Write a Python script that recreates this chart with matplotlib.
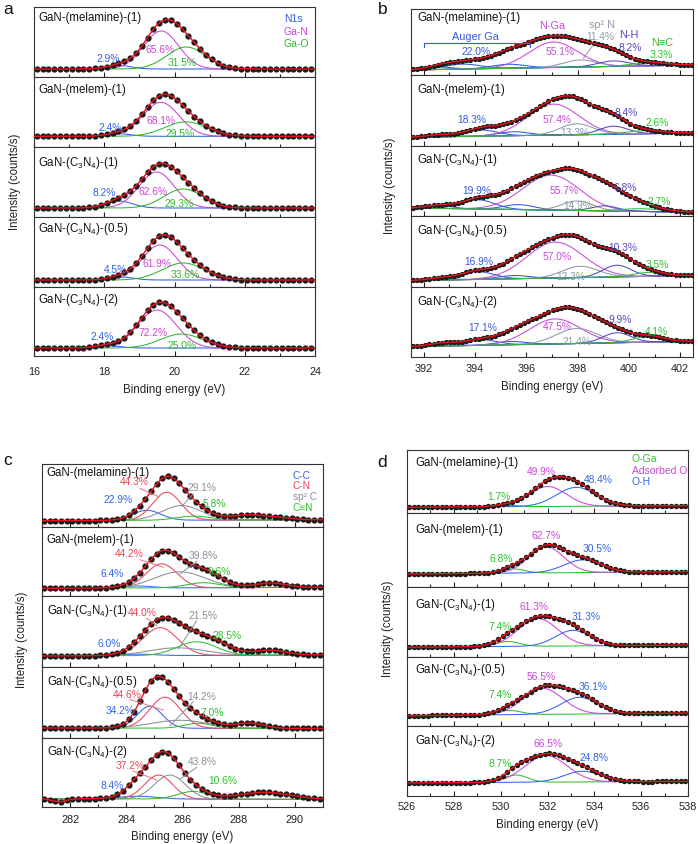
import numpy as np
import matplotlib
matplotlib.use('Agg')
import matplotlib.pyplot as plt
from matplotlib.lines import Line2D
from matplotlib.ticker import MultipleLocator

plt.rcParams['font.family'] = ['Liberation Sans', 'DejaVu Sans']
plt.rcParams['mathtext.fontset'] = 'custom'
plt.rcParams['mathtext.rm'] = 'Liberation Sans'
plt.rcParams['mathtext.it'] = 'Liberation Sans:italic'
plt.rcParams['mathtext.bf'] = 'Liberation Sans:bold'

W, H = 698, 845

SAMPLES = ['GaN-(melamine)-(1)', 'GaN-(melem)-(1)', r'GaN-(C$_3$N$_4$)-(1)',
           r'GaN-(C$_3$N$_4$)-(0.5)', r'GaN-(C$_3$N$_4$)-(2)']

# ---------------- panel a : Ga 3d ----------------
A_COMPS = ['N1s', 'Ga-N', 'Ga-O']
A_PEAKS = [  # (component, centre eV, height, sigma)
    [(0, 18.42, 3.5, 0.35), (1, 19.62, 38, 0.50), (2, 20.33, 22, 0.55)],
    [(0, 18.42, 2.5, 0.35), (1, 19.61, 34, 0.52), (2, 20.32, 14.5, 0.60)],
    [(0, 18.42, 7.0, 0.38), (1, 19.49, 36, 0.50), (2, 20.25, 19, 0.55)],
    [(0, 18.48, 3.0, 0.35), (1, 19.58, 35, 0.50), (2, 20.25, 17, 0.60)],
    [(0, 18.07, 2.5, 0.35), (1, 19.50, 38, 0.55), (2, 20.20, 14, 0.60)],
]
A_EXTRA = [[], [], [], [], []]
A_BG = [(8, 8), (10.7, 10.7), (9, 9), (7, 7), (8, 8)]
A_PCT = [[2.9, 65.6, 31.5], [2.4, 68.1, 29.5], [8.2, 62.6, 29.3],
         [4.5, 61.9, 33.6], [2.4, 72.2, 25.0]]

# ---------------- panel b : N 1s ----------------
B_COMPS = ['Auger Ga', 'N-Ga', 'sp² N', 'N-H', 'N≡C']
B_PEAKS = [
    [(0, 392.6, 2.5, 0.5), (0, 393.5, 5, 0.7), (0, 395.3, 4, 0.65), (1, 397.05, 25.5, 0.95),
     (2, 398.1, 7.0, 0.65), (3, 399.4, 5.5, 0.6), (4, 400.8, 3, 0.7)],
    [(0, 392.6, 2, 0.5), (0, 394.2, 6.3, 0.65), (0, 395.5, 4, 0.6), (1, 397.05, 31, 1.0),
     (2, 397.96, 11, 0.65), (3, 399.4, 8, 0.55), (4, 400.6, 3, 0.7)],
    [(0, 392.6, 3, 0.5), (0, 394.1, 9.3, 0.65), (0, 395.7, 5, 0.6), (1, 396.97, 35, 1.1),
     (2, 398.0, 9.5, 0.6), (3, 399.06, 5, 0.5), (4, 400.5, 2.7, 0.8)],
    [(0, 392.6, 2, 0.5), (0, 394.06, 8, 0.65), (0, 395.5, 3.3, 0.6), (1, 397.12, 36, 1.1),
     (2, 398.1, 11.3, 0.7), (3, 399.53, 11.7, 0.55), (4, 400.8, 4, 0.6)],
    [(0, 392.7, 3, 0.5), (0, 394.19, 5.7, 0.65), (0, 395.4, 3.3, 0.6), (1, 397.12, 25, 1.0),
     (2, 397.96, 15, 0.8), (3, 399.53, 10, 0.55), (4, 400.8, 6, 0.6)],
]
B_EXTRA = [
    [(395.4, 10.5, 1.15), (399.0, 10.5, 0.75)],
    [(394.6, 2, 0.6), (398.9, 11, 0.8)],
    [(395.0, 3, 0.6), (399.2, 16.5, 1.0)],
    [(395.6, 5, 0.7), (399.1, 9, 0.8), (400.2, 3, 0.5)],
    [(395.8, 7, 0.65), (398.7, 6, 0.5)],
]
B_BG = [(5, 10), (8.7, 13), (8, 3.8), (6.3, 11.5), (10.3, 15.7)]
B_PCT = [[22.0, 55.1, 11.4, 8.2, 3.3], [18.3, 57.4, 13.3, 8.4, 2.6],
         [19.9, 55.7, 14.9, 6.8, 2.7], [16.9, 57.0, 12.3, 10.3, 3.5],
         [17.1, 47.5, 21.4, 9.9, 4.1]]

# ---------------- panel c : C 1s ----------------
C_COMPS = ['C-C', 'C-N', 'sp² C', 'C≡N']
C_PEAKS = [
    [(0, 284.73, 10, 0.5), (1, 285.44, 28, 0.5), (2, 285.97, 14.7, 0.7), (3, 286.38, 4, 0.6)],
    [(0, 284.4, 2, 0.5), (1, 285.26, 24, 0.55), (2, 285.9, 16, 0.9), (3, 286.74, 5, 0.6)],
    [(0, 284.4, 1.5, 0.6), (1, 285.2, 28, 0.62), (2, 285.79, 7.7, 1.0), (3, 286.5, 13.7, 0.7)],
    [(0, 284.84, 22, 0.45), (1, 285.38, 31, 0.55), (2, 285.9, 8, 1.0), (3, 286.55, 5, 0.5)],
    [(0, 284.4, 2.7, 0.7), (1, 285.15, 24, 0.5), (2, 285.55, 24, 0.55), (3, 286.38, 7.7, 0.55)],
]
C_EXTRA = [
    [(288.3, 5, 0.6), (289.4, 2, 0.5)],
    [(287.0, 4, 0.5), (289.15, 4.5, 0.55)],
    [(287.4, 5, 0.5), (289.1, 5, 0.6)],
    [(288.4, 5, 0.5)],
    [(284.35, 10, 0.4), (288.9, 7, 0.95), (281.6, -3, 0.25)],
]
C_BG = [(6.3, 7.3), (7.7, 8.7), (11, 12), (10, 9.5), (8.3, 7.5)]
C_PCT = [[22.9, 44.3, 29.1, 5.8], [6.4, 44.2, 39.8, 9.6], [6.0, 44.0, 21.5, 28.5],
         [34.2, 44.6, 14.2, 7.0], [8.4, 37.2, 43.8, 10.6]]

# ---------------- panel d : O 1s ----------------
D_COMPS = ['O-Ga', 'Adsorbed O', 'O-H']
D_PEAKS = [
    [(0, 530.23, 1.5, 0.5), (1, 532.01, 20, 0.8), (2, 533.23, 19, 0.85)],
    [(0, 530.51, 4.3, 0.5), (1, 531.94, 26, 0.75), (2, 533.51, 12.7, 0.8)],
    [(0, 530.30, 5.0, 0.5), (1, 531.59, 27.6, 0.85), (2, 533.09, 15.6, 0.75)],
    [(0, 530.37, 4.3, 0.5), (1, 531.80, 26, 0.85), (2, 533.37, 16.7, 0.8)],
    [(0, 530.66, 7.3, 0.5), (1, 531.94, 26.7, 0.9), (2, 533.51, 10.7, 0.8)],
]
D_EXTRA = [[], [], [], [], []]
D_BG = [(5.7, 7.3), (13, 15.3), (9.7, 12), (10.3, 13), (13, 14.7)]
D_PCT = [[1.7, 49.9, 48.4], [6.8, 62.7, 30.5], [7.4, 61.3, 31.3],
         [7.4, 56.5, 36.1], [8.7, 66.5, 24.8]]

# ---------------- layout (pixels) ----------------
GEOM = {
    'a': dict(l=34, r=315, edges=[8, 78, 148, 218, 288, 357], xlim=(16, 24), step=0.166, ms=4.5, pad=7.0),
    'b': dict(l=411, r=693, edges=[10, 76, 147, 217, 288, 358], xlim=(391.5, 402.5), step=0.16, ms=3.8, pad=4.0),
    'c': dict(l=42, r=323, edges=[465, 528, 597, 668, 739, 808], xlim=(281, 291), step=0.2, ms=4.5, pad=5.2),
    'd': dict(l=407, r=688, edges=[451, 514, 588, 658, 727, 797], xlim=(526, 538), step=0.2, ms=3.9, pad=3.6),
}
COLORS = {
    'a': ['#3060e8', '#cc44d4', '#2cb82c'],
    'b': ['#3558e0', '#c84ad6', '#8c9aaa', '#5548c0', '#2ec02e'],
    'c': ['#3366ee', '#ee4455', '#8a9098', '#2ec02e'],
    'd': ['#2ec02e', '#cc44dd', '#3366ee'],
}
NAME_POS = {
    'a': (38, [18, 90, 163, 229, 300]),
    'b': (417, [18.3, 90, 160, 230.7, 301.7]),
    'c': (46.7, [473, 540, 610.7, 682, 752.5]),
    'd': (415, [463, 530, 605, 670, 740.7]),
}
PCT_POS = {
    'a': [[(108.3, 59.3), (160, 50), (182.2, 63.3)],
          [(110, 128.3), (160.8, 120.7), (180.3, 134)],
          [(104.3, 193.3), (153, 192.3), (179, 204)],
          [(115, 270), (157.3, 264), (185.3, 275)],
          [(102.5, 337.3), (152.5, 333.3), (182.5, 346)]],
    'b': [[(475.8, 51.7), (560, 51.7), (600, 37.3), (630, 48.3), (661.7, 55)],
          [(472, 120), (556.7, 120), (575, 133.3), (625.7, 113.3), (656.7, 122.7)],
          [(476.3, 190.7), (563.7, 190.7), (578, 206), (624.7, 188.3), (658.7, 201.7)],
          [(478.3, 261.7), (556.7, 257.3), (570.7, 277.3), (622.7, 247.7), (657, 265)],
          [(482.3, 328.3), (557.4, 326.7), (576.7, 341.7), (620, 320), (656.7, 331.7)]],
    'c': [[(118.3, 500), (134, 482.5), (202.5, 488.5), (214.4, 504)],
          [(111.7, 574.3), (129, 554), (203.3, 555.7), (219, 571.7)],
          [(109, 644), (142.4, 612.7), (203.3, 616), (226.7, 636)],
          [(120.4, 710.5), (127, 695.5), (201.7, 696.7), (211.7, 713.3)],
          [(111.7, 786), (130, 766), (202.4, 762.3), (222.4, 781)]],
    'd': [[(499, 496.7), (541.3, 471.7), (598.3, 480)],
          [(501, 559.3), (546, 536), (596.7, 549.3)],
          [(500, 627.3), (534, 606.7), (586, 617.3)],
          [(500.3, 695), (541, 677.3), (592.7, 686.7)],
          [(500.3, 764), (548.3, 744.3), (594.3, 758.3)]],
}
C_LEAD_RED = [((140, 489.5), (159.3, 498)), ((140, 560.7), (163.3, 568.3)),
              ((146.7, 619.3), (156.7, 626.7)), ((130, 700.5), (163.3, 711)),
              ((133, 772), (156.7, 781))]
C_LEAD_GRAY = [((193.3, 495), (181.7, 507.3)), ((196.7, 562.3), (180, 575)),
               ((196.7, 621.7), (178.3, 650)), ((193.3, 702.7), (170, 726.7)),
               ((196.7, 768.3), (180, 780))]

fig = plt.figure(figsize=(W / 100, H / 100), dpi=100)


def fx(x):
    return x / W


def fy(y):
    return 1 - y / H


def ftext(x, y, s, **kw):
    kw.setdefault('ha', 'center')
    kw.setdefault('va', 'center')
    fig.text(fx(x), fy(y), s, **kw)


def fline(xs, ys, color, lw=0.7):
    fig.add_artist(Line2D([fx(v) for v in xs], [fy(v) for v in ys], color=color, lw=lw,
                          transform=fig.transFigure))


def gauss(x, c, h, s):
    return h * np.exp(-(x - c) ** 2 / (2 * s * s))


def draw_panel(key, peaks, extras, bgs, pcts):
    g = GEOM[key]
    cols = COLORS[key]
    x0, x1 = g['xlim']
    xf = np.linspace(x0, x1, 800)
    xd = np.arange(x0 + 0.08, x1, g['step'])
    e = g['edges']
    for i in range(5):
        top, bot = e[i], e[i + 1]
        ax = fig.add_axes([fx(g['l']), fy(bot), (g['r'] - g['l']) / W, (bot - top) / H])
        ax.set_xlim(x0, x1)
        ax.set_ylim(0, bot - top)
        b0, b1 = bgs[i]
        base_f = b0 + (b1 - b0) * (xf - x0) / (x1 - x0)
        base_d = b0 + (b1 - b0) * (xd - x0) / (x1 - x0)
        env_f = base_f.copy()
        env_d = base_d.copy()
        for (k, c, h, s) in peaks[i]:
            yk = gauss(xf, c, h, s)
            ax.plot(xf, base_f + yk, color=cols[k], lw=0.75, zorder=2)
            env_f += yk
            env_d += gauss(xd, c, h, s)
        for (c, h, s) in extras[i]:
            env_f += gauss(xf, c, h, s)
            env_d += gauss(xd, c, h, s)
        ax.plot(xd, env_d, 'o', ms=g['ms'], color='#1e1a1a', mec='none', zorder=3)
        ax.plot(xf, env_f, color='#e8141c', lw=1.0, zorder=4)
        ax.set_yticks([])
        ax.xaxis.set_major_locator(MultipleLocator(2))
        ax.xaxis.set_minor_locator(MultipleLocator(1))
        ax.tick_params(axis='x', which='both', direction='in', top=False,
                       labelbottom=(i == 4), labelsize=7.8, pad=g['pad'], width=0.8,
                       colors='#222222')
        ax.tick_params(axis='x', which='major', length=3.5)
        ax.tick_params(axis='x', which='minor', length=2)
        for sp in ax.spines.values():
            sp.set_linewidth(0.8)
            sp.set_color('#333333')
        # sample name
        nx, nys = NAME_POS[key]
        ftext(nx, nys[i], SAMPLES[i], ha='left', fontsize=8.3, color='#111111')
        # percentages
        for k, val in enumerate(pcts[i]):
            px, py = PCT_POS[key][i][k]
            ftext(px, py, f'{val:.1f}%', fontsize=7.4, color=cols[k])


draw_panel('a', A_PEAKS, A_EXTRA, A_BG, A_PCT)
draw_panel('b', B_PEAKS, B_EXTRA, B_BG, B_PCT)
draw_panel('c', C_PEAKS, C_EXTRA, C_BG, C_PCT)
draw_panel('d', D_PEAKS, D_EXTRA, D_BG, D_PCT)

# legends / component names
for name, col, y in zip(A_COMPS, COLORS['a'], [19, 31.7, 44.3]):
    ftext(284, y, name, ha='left', fontsize=7.5, color=col)
for name, col, y in zip(C_COMPS, COLORS['c'], [476.2, 486.4, 497.2, 508.5]):
    ftext(292.7, y, name, ha='left', fontsize=7.3, color=col)
for name, col, y in zip(D_COMPS, COLORS['d'], [459.3, 470.7, 481.7]):
    ftext(632, y, name, ha='left', fontsize=7.5, color=col)
B_NAME_POS = [(475.8, 36.7), (552.5, 26), (601.7, 25), (629, 35), (661.7, 43.3)]
for name, col, (x, y) in zip(B_COMPS, COLORS['b'], B_NAME_POS):
    ftext(x, y, name, fontsize=7.8, color=col)
# Auger bracket and sp2 leader
fline([424, 424, 530, 530], [48, 44, 44, 48], COLORS['b'][0], lw=0.8)
fline([592.7, 583.3], [46.7, 59.3], COLORS['b'][2], lw=0.7)
# leader lines in panel c
for (p, q) in C_LEAD_RED:
    fline([p[0], q[0]], [p[1], q[1]], '#f07080', lw=0.7)
for (p, q) in C_LEAD_GRAY:
    fline([p[0], q[0]], [p[1], q[1]], '#8a9098', lw=0.7)

# axis labels
for (x, y) in [(174.5, 390), (552, 386.7), (182.5, 836.7), (547.5, 825)]:
    ftext(x, y, 'Binding energy (eV)', fontsize=8.3, color='#222222')
for (x, y) in [(15, 182), (390, 186), (21.7, 640), (388.3, 629)]:
    ftext(x, y, 'Intensity (counts/s)', fontsize=8.3, rotation=90, color='#222222')

# panel letters
for s, (x, y) in zip('abcd', [(8, 9), (383, 9), (8, 461), (382, 463)]):
    ftext(x, y, s, fontsize=12.5, color='#111111')

fig.savefig('out.png', dpi=100)
